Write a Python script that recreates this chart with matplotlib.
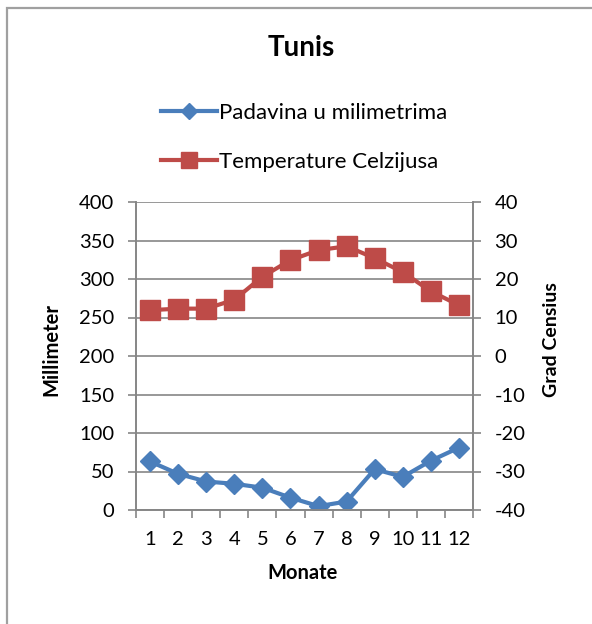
import matplotlib.pyplot as plt
from matplotlib.patches import Rectangle
import numpy as np

months = list(range(1, 13))
rain_mm = [63, 47, 37, 34, 29, 16, 5, 11, 53, 43, 64, 81]
temp_c = [11.9, 12.3, 12.3, 14.6, 20.6, 24.9, 27.5, 28.5, 25.4, 21.8, 16.8, 13.2]

blue = '#4A7EBB'
red = '#BE4B48'
grey = '#868686'

plt.rcParams['font.family'] = ['Lato', 'DejaVu Sans']
plt.rcParams['axes.unicode_minus'] = False

fig = plt.figure(figsize=(5.92, 6.24), dpi=100)
W, H = 592, 624
ax = fig.add_axes([136 / W, 1 - 510 / H, (473 - 136) / W, (510 - 202) / H])
ax2 = ax.twinx()

# cadre du graphique (coupé à droite et en bas)
fig.patches.append(Rectangle((6.5 / W, -0.1), 1.2, 1 - 7.5 / H + 0.1, transform=fig.transFigure,
                             fill=False, edgecolor='#A0A0A0', lw=1.6))

l1, = ax.plot(months, rain_mm, color=blue, lw=3, marker='D', ms=10, label='Padavina u milimetrima')
l2, = ax2.plot(months, temp_c, color=red, lw=3, marker='s', ms=14, label='Temperature Celzijusa')

ax.set_xlim(0.5, 12.5)
ax.set_ylim(0, 400)
ax.set_yticks(range(0, 401, 50))
ax2.set_ylim(-40, 40)
ax2.set_yticks(range(-40, 41, 10))
ax.set_xticks(months)
ax.set_xticks(np.arange(0.5, 12.6, 1), minor=True)
ax.tick_params(axis='x', which='major', length=0, pad=15, labelsize=14.5)
ax.tick_params(axis='x', which='minor', length=5.5, color=grey, width=1.2)
ax.tick_params(axis='y', length=5.5, color=grey, width=1.2, labelsize=14.5, pad=10)
ax2.tick_params(axis='y', length=5.5, color=grey, width=1.2, labelsize=14.5, pad=10)
ax.grid(axis='y', color=grey, lw=1.2)
ax.set_axisbelow(True)

for a in (ax, ax2):
    for s in a.spines.values():
        s.set_color(grey)
        s.set_linewidth(1.2)
    a.spines['top'].set_visible(False)

ax.set_xlabel('Monate', fontsize=14.5, fontweight='bold')
ax.xaxis.set_label_coords((303 - 136) / 337, (510 - 563) / 308)
ax.xaxis.label.set_va('top')
ax.set_ylabel('Millimeter', fontsize=14.5, fontweight='bold')
ax.yaxis.set_label_coords((61 - 136) / 337, (510 - 350) / 308)
ax2.set_ylabel('Grad Censius', fontsize=14, fontweight='bold')
ax2.yaxis.set_label_coords((543 - 136) / 337, (510 - 340) / 308)

fig.text(301 / W, 1 - 48 / H, 'Tunis', ha='center', va='center', fontsize=20, fontweight='bold')
fig.legend(handles=[l1, l2], loc='upper left', bbox_to_anchor=(150 / W, 1 - 92 / H),
           frameon=False, fontsize=16, handlelength=2.5, handletextpad=0.1,
           labelspacing=1.3, markerscale=0.8, borderpad=0)

fig.savefig('out.png', dpi=100)
